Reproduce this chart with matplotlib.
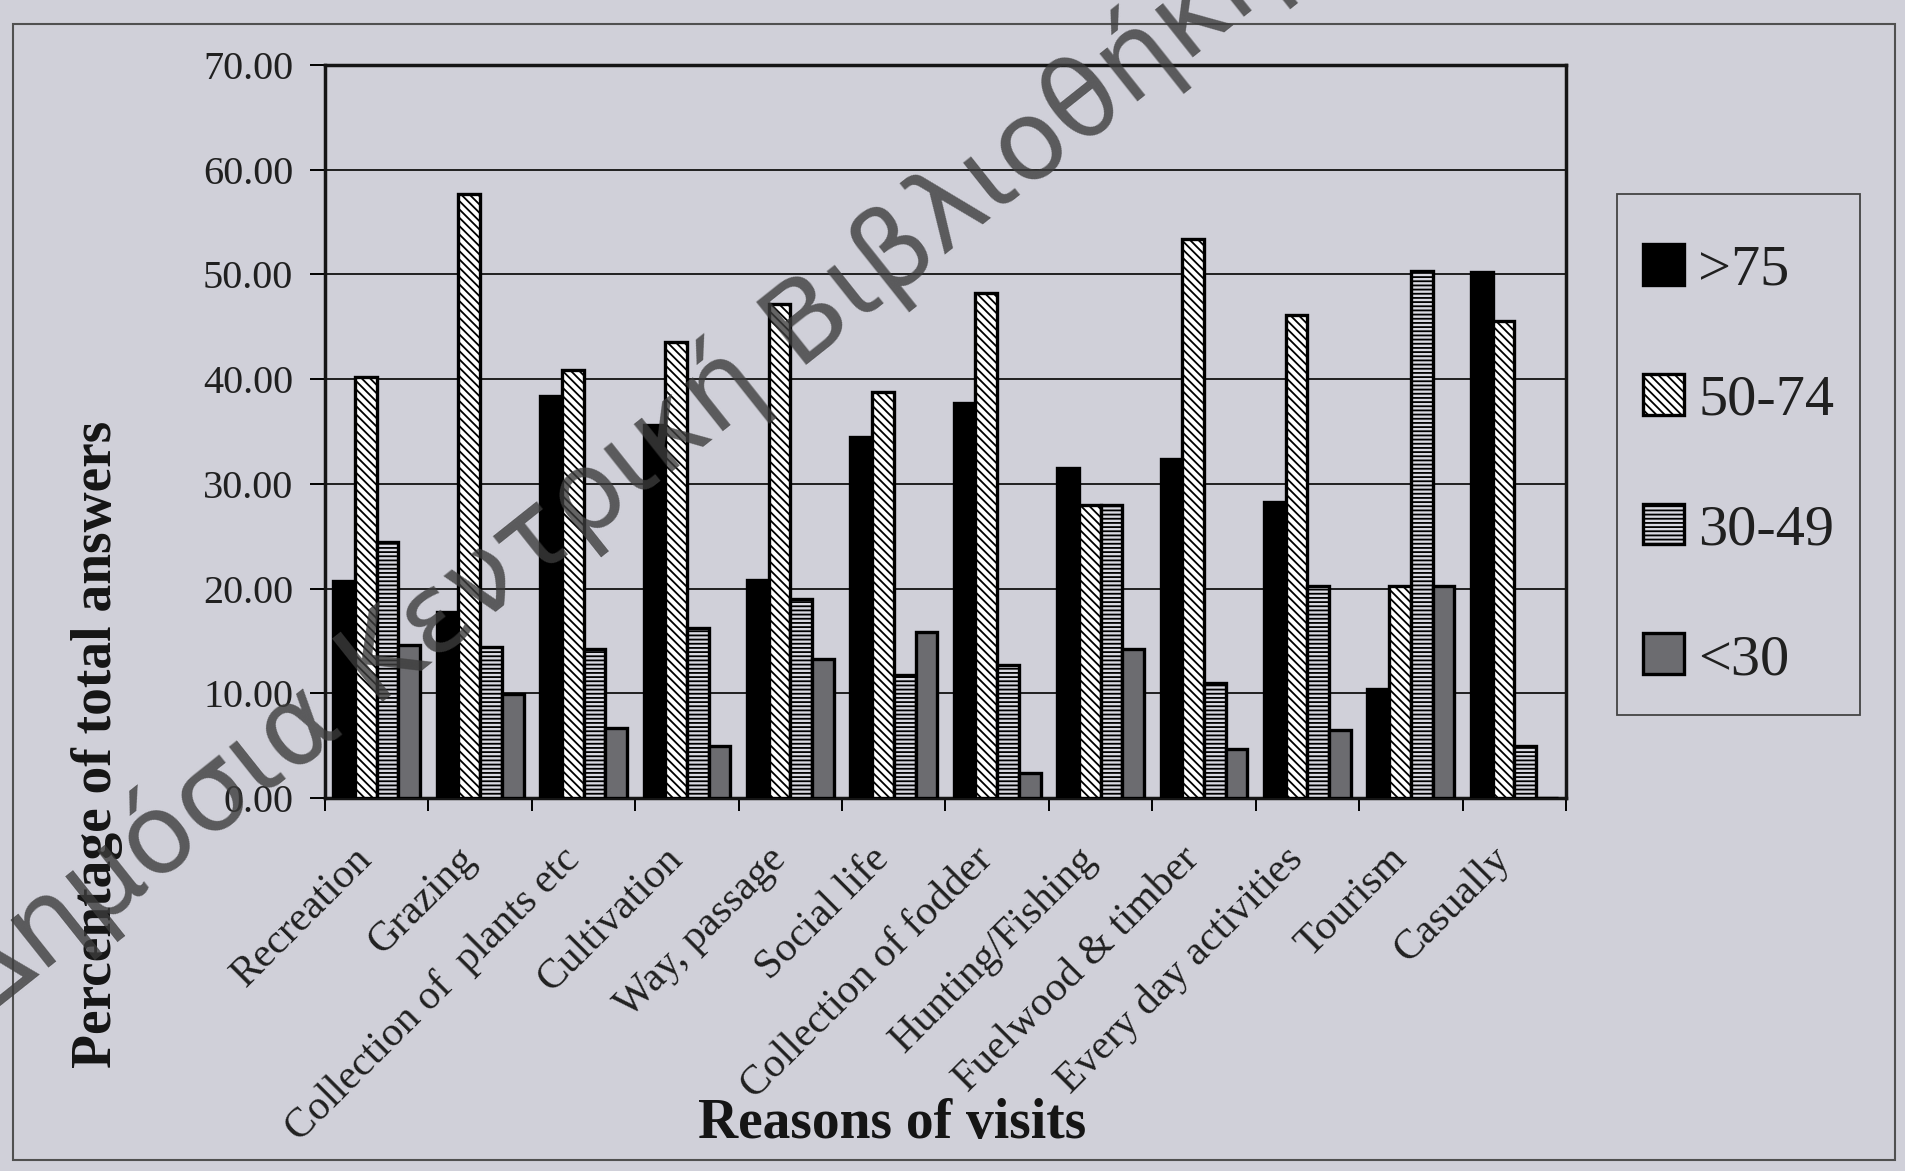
import numpy as np
import matplotlib
matplotlib.use("Agg")
import matplotlib.pyplot as plt
from matplotlib.patches import Rectangle
from matplotlib.transforms import ScaledTranslation

# ---------------- Data ----------------
reasons = ["Recreation", "Grazing", "Collection of  plants etc", "Cultivation",
           "Way, passage", "Social life", "Collection of fodder", "Hunting/Fishing",
           "Fuelwood & timber", "Every day activities", "Tourism", "Casually"]
age_groups = [">75", "50-74", "30-49", "<30"]

over_75 = [20.7, 17.8, 38.4, 35.6, 20.8, 34.5, 37.7, 31.5, 32.4, 28.3, 10.4, 50.2]
age_50_74 = [40.2, 57.7, 40.9, 43.5, 47.2, 38.8, 48.2, 28.0, 53.4, 46.1, 20.2, 45.6]
age_30_49 = [24.4, 14.4, 14.2, 16.2, 19.0, 11.7, 12.7, 28.0, 11.0, 20.2, 50.3, 5.0]
under_30 = [14.6, 9.9, 6.7, 5.0, 13.3, 15.9, 2.4, 14.2, 4.7, 6.5, 20.2, 0.0]

yticks = [0, 10, 20, 30, 40, 50, 60, 70]

# ---------------- Style ----------------
paper = "#d0d0d9"
plt.rcParams["font.family"] = ["Liberation Serif", "DejaVu Serif"]
plt.rcParams["hatch.linewidth"] = 1.3

W, H = 1906, 1171
fig = plt.figure(figsize=(W / 100, H / 100), dpi=100, facecolor=paper)
ax = fig.add_axes([325 / W, 1 - 798 / H, 1241 / W, 733 / H])
ax.set_facecolor("none")

series = [over_75, age_50_74, age_30_49, under_30]
faces = ["black", "white", "#dadae2", "#6c6c70"]
hatches = [None, "\\\\\\\\", "----", None]

x = np.arange(len(reasons))
w = 0.21
for i, (vals, fc, h, lab) in enumerate(zip(series, faces, hatches, age_groups)):
    ax.bar(x - 1.5 * w + i * w, vals, width=w, color=fc, edgecolor="black",
           linewidth=2.4, hatch=h, label=lab, zorder=3)

ax.set_xlim(-0.5, len(reasons) - 0.5)
ax.set_ylim(0, 70)
ax.set_yticks(yticks)
ax.set_yticklabels([f"{v:.2f}" for v in yticks], fontsize=29, color="#202020")
ax.yaxis.grid(True, color="#202020", linewidth=1.4, zorder=0)

ax.set_xticks(x)
ax.set_xticklabels(reasons, rotation=45, ha="right", va="top",
                   rotation_mode="anchor", fontsize=30, color="#202020")
ax.set_xticks(np.arange(len(reasons) + 1) - 0.5, minor=True)
ax.tick_params(axis="x", which="major", length=0, pad=30)
ax.tick_params(axis="x", which="minor", length=9, width=1.4, direction="out")
ax.tick_params(axis="y", length=11, width=1.4, direction="out", pad=12)
for lbl in ax.get_xticklabels():
    lbl.set_transform(lbl.get_transform() + ScaledTranslation(-0.24, 0, fig.dpi_scale_trans))

for s in ax.spines.values():
    s.set_linewidth(2.5)
    s.set_color("#151515")

# axis titles
fig.text(97 / W, 1 - 744 / H, "Percentage of total answers", rotation=90,
         ha="center", va="center", fontsize=40, fontweight="bold", color="#151515")
fig.text(892 / W, 1 - 1124 / H, "Reasons of visits",
         ha="center", va="center", fontsize=40, fontweight="bold", color="#151515")

# legend, with its box drawn separately
leg = ax.legend(loc="upper left", bbox_to_anchor=(1643 / W, 1 - 244 / H),
                bbox_transform=fig.transFigure, borderaxespad=0, borderpad=0,
                fontsize=42, handlelength=0.7, handleheight=0.7,
                handletextpad=0.25, labelspacing=1.32, frameon=False)
for t in leg.get_texts():
    t.set_color("#202020")
fig.patches.append(Rectangle((1617 / W, 1 - 715 / H), 243 / W, 521 / H,
                             transform=fig.transFigure, fill=False,
                             edgecolor="#444444", linewidth=1.3))

# outer chart frame
fig.patches.append(Rectangle((13 / W, 1 - 1160 / H), 1882 / W, 1136 / H,
                             transform=fig.transFigure, fill=False,
                             edgecolor="#505050", linewidth=1.5))

# library watermark
fig.text(0.3235, 0.595, "Δημόσια Κεντρική Βιβλιοθήκη", rotation=38.5,
         ha="center", va="center", rotation_mode="anchor", fontsize=80,
         family="DejaVu Sans", color="#3c3c3c", alpha=0.8, zorder=10)

fig.savefig("out.png", dpi=100, facecolor=paper)
